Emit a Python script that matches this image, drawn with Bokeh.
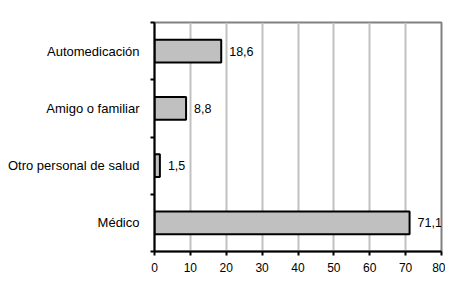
from bokeh.plotting import figure
from bokeh.models import Range1d, FixedTicker, ColumnDataSource, LabelSet
from bokeh.core.properties import value
from bokeh.embed import file_html
from bokeh.resources import INLINE

categories = ["Médico", "Otro personal de salud", "Amigo o familiar", "Automedicación"]
values = [71.1, 1.5, 8.8, 18.6]
value_labels = ["71,1", "1,5", "8,8", "18,6"]
x_ticks = [0, 10, 20, 30, 40, 50, 60, 70, 80]

ypos = [i + 0.5 for i in range(len(categories))]
src = ColumnDataSource(dict(y=ypos, v=values, lab=value_labels))

p = figure(width=445, height=278, output_backend="svg", toolbar_location=None,
           x_range=Range1d(0, 80), y_range=Range1d(0, len(categories)),
           min_border_left=154, min_border_right=4, min_border_top=22, min_border_bottom=27)
p.background_fill_color = "white"
p.border_fill_color = "white"
p.outline_line_color = "#808080"
p.outline_line_width = 2

p.hbar(y="y", right="v", left=0, height=0.4, source=src,
       fill_color="#c0c0c0", line_color="black", line_width=2)

labels = LabelSet(x="v", y="y", text="lab", source=src, x_offset=8,
                  text_baseline="middle", text_font=value("Liberation Sans"),
                  text_font_size="12.5px", text_color="black")
p.add_layout(labels)

p.xaxis.ticker = FixedTicker(ticks=x_ticks)
p.xaxis.axis_line_color = "black"
p.xaxis.axis_line_width = 2
p.xaxis.major_tick_line_color = "black"
p.xaxis.major_tick_line_width = 2
p.xaxis.major_tick_out = 4
p.xaxis.major_tick_in = 0
p.xaxis.minor_tick_line_color = None
p.xaxis.major_label_text_font = "Liberation Sans"
p.xaxis.major_label_text_font_size = "12px"
p.xaxis.major_label_text_color = "black"
p.xaxis.major_label_standoff = 7

p.yaxis.ticker = FixedTicker(ticks=ypos, minor_ticks=list(range(len(categories) + 1)))
p.yaxis.major_label_overrides = {y: c for y, c in zip(ypos, categories)}
p.yaxis.axis_line_color = "black"
p.yaxis.axis_line_width = 2
p.yaxis.major_tick_line_color = None
p.yaxis.minor_tick_line_color = "black"
p.yaxis.minor_tick_line_width = 2
p.yaxis.minor_tick_out = 4
p.yaxis.minor_tick_in = 0
p.yaxis.major_label_text_font = "Liberation Sans"
p.yaxis.major_label_text_font_size = "13px"
p.yaxis.major_label_text_color = "black"
p.yaxis.major_label_standoff = 9

p.xgrid.ticker = FixedTicker(ticks=x_ticks[1:-1])
p.xgrid.grid_line_color = "#c0c0c0"
p.xgrid.grid_line_width = 2
p.ygrid.grid_line_color = None

open("out.html", "w").write(file_html(p, INLINE))
